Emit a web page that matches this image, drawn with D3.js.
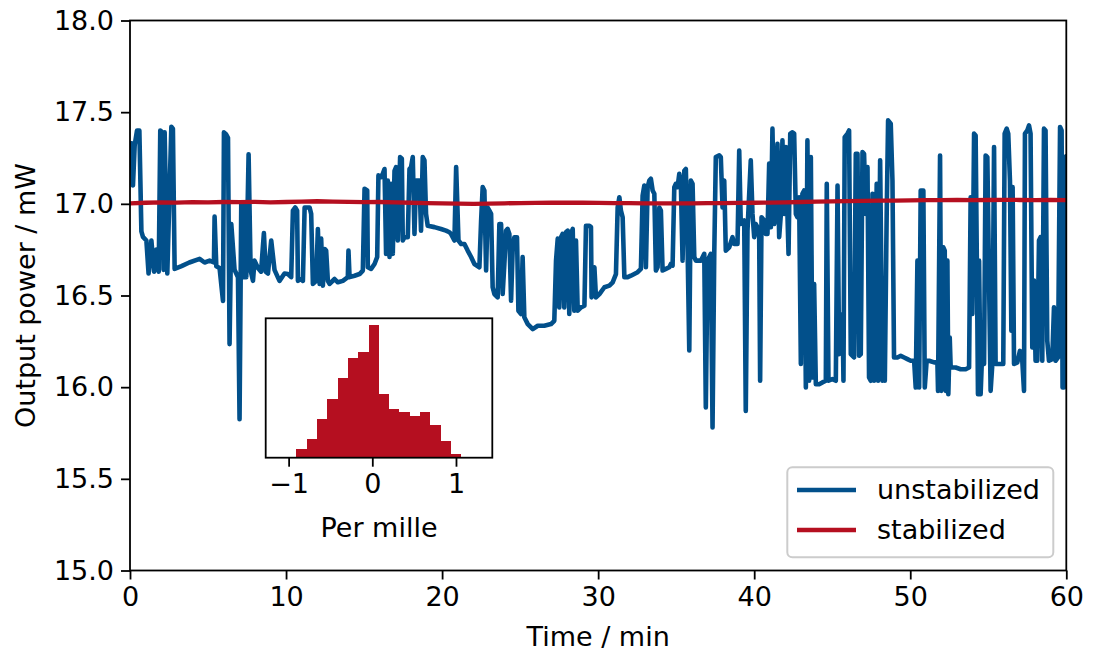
<!DOCTYPE html>
<html><head><meta charset="utf-8">
<script src="https://cdn.jsdelivr.net/npm/d3@7/dist/d3.min.js"></script>
<style>
body{margin:0;background:#fff;}
svg text{font-family:"DejaVu Sans",sans-serif;fill:#000;}
</style>
</head><body>
<svg id="chart" width="1094" height="653"></svg>
<script>
// ---------------- data ----------------
const xTicks = [0, 10, 20, 30, 40, 50, 60];
const yTicks = [15.0, 15.5, 16.0, 16.5, 17.0, 17.5, 18.0];
const insetTicks = [-1, 0, 1];
const seriesNames = ["unstabilized", "stabilized"];
const seriesColors = ["#02508b", "#b50f20"];

// unstabilized output power: [time (min), power (mW)]
const unstabilized = [
[0.00,17.30],[0.10,17.33],[0.19,17.10],[0.30,17.32],[0.45,17.40],[0.60,17.40],[0.73,16.85],[0.83,16.82],
[1.05,16.80],[1.19,16.62],[1.37,16.80],[1.54,16.63],[1.69,16.75],[1.84,16.63],[1.94,17.40],[2.07,17.39],
[2.15,16.64],[2.22,17.39],[2.39,16.62],[2.65,17.42],[2.75,17.41],[2.86,16.645],[3.30,16.66],[3.80,16.68],
[4.46,16.70],[4.78,16.68],[5.10,16.69],[5.38,16.68],[5.42,16.93],[5.53,16.66],[5.74,16.65],[5.96,16.47],
[6.02,17.39],[6.15,17.38],[6.28,17.36],[6.38,16.235],[6.49,16.89],[6.70,16.64],[6.92,16.60],[7.02,15.825],
[7.13,17.00],[7.24,16.60],[7.34,17.00],[7.45,16.60],[7.60,17.27],[7.73,16.636],[7.88,16.58],[7.98,16.69],
[8.20,16.65],[8.40,16.63],[8.58,16.84],[8.70,16.63],[8.84,16.62],[9.05,16.80],[9.26,16.64],[9.58,16.58],
[9.90,16.62],[10.12,16.617],[10.33,16.60],[10.44,16.963],[10.59,16.98],[10.71,16.963],[10.76,16.58],[10.97,16.59],
[11.08,16.58],[11.19,16.98],[11.51,16.98],[11.61,16.945],[11.72,16.563],[11.83,16.572],[11.93,16.58],[12.04,16.863],
[12.15,16.563],[12.25,16.81],[12.36,16.554],[12.47,16.754],[12.57,16.745],[12.68,16.58],[12.79,16.563],[13.11,16.59],
[13.32,16.572],[13.64,16.58],[13.96,16.60],[14.00,16.745],[14.07,16.60],[14.39,16.608],[14.71,16.617],[14.92,16.636],
[15.03,17.082],[15.20,17.073],[15.24,16.654],[15.45,16.645],[15.67,16.672],[15.84,16.71],[15.92,17.155],[16.09,17.146],
[16.20,17.164],[16.31,17.19],[16.41,16.727],[16.52,17.127],[16.63,16.71],[16.73,17.109],[16.84,16.727],[16.95,17.18],
[17.05,17.20],[17.16,16.80],[17.31,17.255],[17.42,17.246],[17.48,16.80],[17.59,16.818],[17.80,16.818],[17.91,17.19],
[18.01,17.20],[18.12,17.255],[18.23,16.836],[18.33,17.127],[18.55,17.127],[18.65,16.854],[18.76,17.255],[18.87,17.237],
[18.97,16.945],[19.08,16.88],[19.51,16.873],[19.93,16.863],[20.25,16.854],[20.47,16.845],[20.57,16.836],[20.79,16.80],
[20.90,17.20],[21.05,16.80],[21.22,16.781],[21.43,16.781],[21.64,16.745],[21.86,16.71],[22.07,16.672],[22.39,16.654],
[22.50,16.909],[22.60,17.091],[22.71,17.073],[22.82,16.636],[22.92,16.98],[23.03,16.963],[23.14,16.945],[23.24,16.545],
[23.35,16.508],[23.56,16.49],[23.67,16.89],[23.78,16.89],[23.88,16.508],[23.99,16.672],[24.10,16.854],[24.20,16.863],
[24.31,16.836],[24.42,16.472],[24.52,16.745],[24.63,16.818],[24.80,16.818],[24.89,16.417],[25.06,16.399],[25.16,16.71],
[25.27,16.381],[25.49,16.344],[25.81,16.317],[26.13,16.335],[26.55,16.335],[26.98,16.344],[27.19,16.362],[27.30,16.69],
[27.41,16.81],[27.51,16.435],[27.62,16.818],[27.72,16.836],[27.83,16.435],[27.94,16.845],[28.05,16.854],[28.15,16.399],
[28.26,16.836],[28.37,16.863],[28.47,16.417],[28.58,16.80],[28.69,16.417],[28.90,16.435],[29.12,16.444],[29.22,16.88],
[29.44,16.88],[29.54,16.873],[29.58,16.49],[29.76,16.654],[29.86,16.49],[30.08,16.508],[30.40,16.545],[30.72,16.554],
[30.93,16.572],[31.14,16.617],[31.25,16.98],[31.36,17.036],[31.46,16.963],[31.57,16.927],[31.68,16.60],[31.89,16.60],
[32.10,16.608],[32.53,16.627],[32.74,16.645],[32.85,17.045],[32.96,17.10],[33.06,16.654],[33.17,17.091],[33.28,17.127],
[33.38,17.137],[33.49,17.073],[33.60,17.055],[33.70,16.636],[33.81,16.654],[33.92,16.98],[34.02,16.963],[34.13,16.636],
[34.34,16.645],[34.56,16.654],[34.66,16.672],[34.77,16.663],[34.88,17.091],[34.98,17.109],[35.09,17.091],[35.20,17.164],
[35.30,17.109],[35.41,16.69],[35.52,17.18],[35.62,17.19],[35.73,16.763],[35.84,16.20],[35.94,17.127],[36.05,17.109],
[36.16,16.71],[36.26,16.69],[36.58,16.69],[36.80,16.727],[36.90,15.889],[37.01,16.69],[37.12,16.71],[37.22,16.727],
[37.33,15.78],[37.44,16.727],[37.54,17.255],[37.76,17.264],[37.86,17.255],[37.97,16.98],[38.08,17.127],[38.18,16.745],
[38.40,16.763],[38.61,16.818],[38.72,16.781],[38.93,16.781],[39.04,17.291],[39.14,16.89],[39.36,16.909],[39.46,15.87],
[39.57,16.854],[39.78,17.237],[39.89,16.945],[40.00,16.818],[40.10,16.89],[40.21,16.873],[40.32,16.818],[40.38,16.035],
[40.47,16.927],[40.64,16.909],[40.74,16.836],[40.85,16.836],[40.96,17.22],[41.07,16.873],[41.17,17.41],[41.28,16.89],
[41.39,16.945],[41.49,17.328],[41.60,16.818],[41.71,16.945],[41.81,17.346],[41.92,16.945],[42.03,17.31],[42.13,16.945],
[42.20,16.727],[42.31,17.383],[42.45,17.39],[42.56,17.383],[42.67,16.945],[42.77,16.927],[42.88,17.036],[42.99,16.126],
[43.09,17.055],[43.20,17.073],[43.31,15.998],[43.41,17.346],[43.52,16.035],[43.63,17.255],[43.73,16.053],[43.84,16.563],
[43.95,16.016],[44.16,16.016],[44.37,16.026],[44.59,16.035],[44.65,17.109],[44.76,16.035],[45.01,16.044],[45.23,16.035],
[45.34,17.10],[45.44,16.18],[45.66,16.399],[45.72,16.035],[45.80,17.364],[45.98,17.383],[46.08,17.40],[46.19,16.18],
[46.40,16.162],[46.51,17.273],[46.62,17.273],[46.72,16.171],[46.83,16.18],[46.94,17.282],[47.04,17.273],[47.15,16.945],
[47.26,17.20],[47.36,16.053],[47.47,16.035],[47.58,17.055],[47.68,16.035],[47.85,17.109],[47.94,16.035],[48.07,17.237],
[48.22,16.035],[48.32,16.217],[48.37,16.035],[48.49,16.945],[48.58,17.455],[48.75,17.437],[48.86,17.127],[48.96,16.162],
[49.18,16.162],[49.39,16.171],[49.61,16.162],[49.82,16.153],[50.03,16.144],[50.25,16.144],[50.35,15.998],[50.46,16.69],
[50.57,15.998],[50.67,17.073],[50.84,17.073],[50.93,15.998],[51.05,16.144],[51.21,16.144],[51.53,16.135],[51.74,16.135],
[51.78,15.98],[51.91,17.264],[51.99,15.98],[52.12,16.763],[52.21,16.745],[52.27,15.98],[52.38,16.69],[52.44,15.962],
[52.53,16.271],[52.59,16.107],[52.91,16.107],[53.23,16.098],[53.55,16.098],[53.77,16.107],[53.87,17.036],[53.98,16.399],
[54.09,17.383],[54.19,17.373],[54.26,16.763],[54.34,15.962],[54.41,16.69],[54.51,15.962],[54.62,16.217],[54.73,16.126],
[54.83,17.264],[54.94,17.255],[55.05,16.581],[55.15,15.98],[55.26,16.126],[55.37,17.31],[55.47,16.126],[55.69,16.126],
[55.96,16.126],[56.05,17.383],[56.18,17.41],[56.28,17.383],[56.39,17.127],[56.48,16.308],[56.56,17.091],[56.65,16.126],
[56.86,16.135],[57.03,16.198],[57.18,16.144],[57.29,15.98],[57.35,17.383],[57.50,17.40],[57.61,17.428],[57.71,17.383],
[57.82,16.217],[57.93,16.581],[58.03,16.144],[58.14,16.144],[58.25,16.80],[58.35,16.818],[58.46,16.144],[58.57,17.41],
[58.67,17.40],[58.78,16.253],[58.89,16.144],[59.10,16.153],[59.21,16.435],[59.31,16.144],[59.47,16.162],[59.60,17.419],
[59.70,17.40],[59.76,15.998],[59.85,15.998],[59.92,17.255],[60.00,17.26]
];

// stabilized output power, one reading per minute (mW)
const stabTime = [0,1,2,3,4,5,6,7,8,9,10,11,12,13,14,15,16,17,18,19,20,21,22,23,24,25,26,27,28,29,30,
  31,32,33,34,35,36,37,38,39,40,41,42,43,44,45,46,47,48,49,50,51,52,53,54,55,56,57,58,59,60];
const stabPower = [17.003,17.006,17.008,17.007,17.009,17.008,17.010,17.009,17.011,17.008,17.010,17.012,17.014,
  17.012,17.011,17.009,17.010,17.008,17.006,17.004,17.002,17.001,17.000,17.001,17.003,17.004,17.005,17.006,17.007,
  17.006,17.005,17.004,17.004,17.003,17.002,17.002,17.003,17.004,17.004,17.005,17.006,17.007,17.008,17.010,17.012,
  17.013,17.015,17.016,17.017,17.018,17.019,17.020,17.020,17.021,17.020,17.021,17.022,17.021,17.020,17.021,17.020];

// inset histogram of stabilized deviations (per mille)
const histEdges = [-1.031,-0.908,-0.785,-0.661,-0.538,-0.415,-0.292,-0.169,-0.045,0.078,0.201,0.324,0.448,
  0.571,0.694,0.817,0.941,1.064,1.187];
const histCounts = [3,26,56,116,176,239,299,317,398,191,146,137,125,137,98,50,11,3];

// ---------------- drawing ----------------
const FS = 27;
const svg = d3.select("#chart");
const P = {l:130, r:1066.3, t:20.5, b:570.5};
const x = d3.scaleLinear().domain([0,60]).range([P.l,P.r]);
const y = d3.scaleLinear().domain([15,18]).range([P.b,P.t]);

svg.append("rect").attr("width",1094).attr("height",653).attr("fill","#fff");

svg.append("clipPath").attr("id","clipMain").append("rect")
  .attr("x",P.l).attr("y",P.t).attr("width",P.r-P.l).attr("height",P.b-P.t);

const lineGen = d3.line().x(d=>x(d[0])).y(d=>y(d[1]));
const plotG = svg.append("g").attr("clip-path","url(#clipMain)");
plotG.append("path").datum(unstabilized)
  .attr("d",lineGen).attr("fill","none").attr("stroke",seriesColors[0])
  .attr("stroke-width",4.6).attr("stroke-linejoin","round").attr("stroke-linecap","round");
plotG.append("path").datum(stabTime.map((t,i)=>[t,stabPower[i]]))
  .attr("d",lineGen).attr("fill","none").attr("stroke",seriesColors[1])
  .attr("stroke-width",4.3).attr("stroke-linejoin","round").attr("stroke-linecap","round");

function styleAxis(g){
  g.select(".domain").remove();
  g.selectAll(".tick line").attr("stroke","#000").attr("stroke-width",1.8);
  g.selectAll(".tick text").attr("font-size",FS).attr("font-family","DejaVu Sans").attr("fill","#000");
}
svg.append("g").attr("transform",`translate(0,${P.b})`)
  .call(d3.axisBottom(x).tickValues(xTicks).tickSize(9).tickPadding(7).tickFormat(d3.format("d")))
  .call(styleAxis);
svg.append("g").attr("transform",`translate(${P.l},0)`)
  .call(d3.axisLeft(y).tickValues(yTicks).tickSize(9).tickPadding(7).tickFormat(d3.format(".1f")))
  .call(styleAxis);

svg.append("rect").attr("x",P.l).attr("y",P.t).attr("width",P.r-P.l).attr("height",P.b-P.t)
  .attr("fill","none").attr("stroke","#000").attr("stroke-width",1.8);

svg.append("text").attr("x",(P.l+P.r)/2).attr("y",646).attr("text-anchor","middle")
  .attr("font-size",FS).text("Time / min");
svg.append("text").attr("transform",`translate(35,${(P.t+P.b)/2}) rotate(-90)`)
  .attr("text-anchor","middle").attr("font-size",FS).text("Output power / mW");

// inset
const I = {l:265.7, r:492.3, t:318.3, b:457.7};
const ix = d3.scaleLinear().domain([-1.274,1.434]).range([I.l,I.r]);
const iy = d3.scaleLinear().domain([0,d3.max(histCounts)*1.05]).range([I.b,I.t]);
const inset = svg.append("g");
inset.append("rect").attr("x",I.l).attr("y",I.t).attr("width",I.r-I.l).attr("height",I.b-I.t).attr("fill","#fff");
inset.selectAll("rect.bar").data(histCounts).join("rect").attr("class","bar")
  .attr("x",(d,i)=>ix(histEdges[i])).attr("width",(d,i)=>ix(histEdges[i+1])-ix(histEdges[i]))
  .attr("y",d=>iy(d)).attr("height",d=>iy(0)-iy(d)).attr("fill",seriesColors[1])
  .attr("shape-rendering","crispEdges");
inset.append("g").attr("transform",`translate(0,${I.b})`)
  .call(d3.axisBottom(ix).tickValues(insetTicks).tickSize(9).tickPadding(7).tickFormat(d3.format("d")))
  .call(styleAxis);
inset.append("rect").attr("x",I.l).attr("y",I.t).attr("width",I.r-I.l).attr("height",I.b-I.t)
  .attr("fill","none").attr("stroke","#000").attr("stroke-width",1.8);
inset.append("text").attr("x",(I.l+I.r)/2).attr("y",537).attr("text-anchor","middle")
  .attr("font-size",FS).text("Per mille");

// legend
const L = {x:787.3, y:467.3, w:266, h:90};
const leg = svg.append("g");
leg.append("rect").attr("x",L.x).attr("y",L.y).attr("width",L.w).attr("height",L.h).attr("rx",5)
  .attr("fill","#fff").attr("fill-opacity",0.8).attr("stroke","#cccccc").attr("stroke-width",2);
seriesNames.forEach((name,i)=>{
  const cy = 490 + i*40;
  leg.append("line").attr("x1",797).attr("x2",856).attr("y1",cy).attr("y2",cy)
    .attr("stroke",seriesColors[i]).attr("stroke-width",4.3);
  leg.append("text").attr("x",877).attr("y",cy).attr("dy","0.35em").attr("font-size",FS).text(name);
});
</script>
</body></html>
